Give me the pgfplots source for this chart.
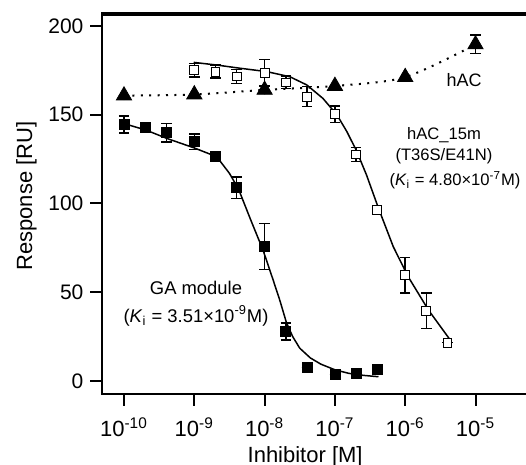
\documentclass[border=0pt]{standalone}
\usepackage{fontspec}
\setmainfont{Liberation Sans}
\usepackage{pgfplots}
\pgfplotsset{compat=1.18}

% binding curves
\pgfplotstableread{
x       y      e
1e-10   144.5  4.8
2e-10   142.6  2.0
4e-10   139.8  5.2
1e-9    134.8  4.3
2e-9    126.4  2.0
4e-9    108.8  6.0
1e-8    75.8   13.0
2e-8    28.0   4.8
4e-8    7.5    0
1e-7    3.8    0
2e-7    4.3    0
4e-7    6.6    0
}\gadata
\pgfplotstableread{
x       y      e
1e-9    175.2  3.8
2e-9    174.3  3.7
4e-9    171.6  4.0
1e-8    173.7  7.5
2e-8    168.2  3.5
4e-8    160.2  5.6
1e-7    150.2  4.7
2e-7    127.6  4.0
4e-7    96.3   0
1e-6    59.7   10.0
2e-6    39.6   10.0
4e-6    21.6   0
}\mdata
\pgfplotstableread{
x       y      e
1e-10   160.8  0
1e-9    161.4  0
1e-8    164.0  0
1e-7    166.2  0
1e-6    171.2  0
1e-5    189.6  5.2
}\hacdata

\begin{document}
\begin{tikzpicture}
\begin{axis}[
    scale only axis,
    width=213.75pt,
    height=190pt,
    xmode=log,
    xmin=4.943e-11, xmax=5.957e-5,
    ymin=-7.32, ymax=206.76,
    xtick={1e-10,1e-9,1e-8,1e-7,1e-6,1e-5},
    xticklabels={10\textsuperscript{-10},10\textsuperscript{-9},10\textsuperscript{-8},10\textsuperscript{-7},10\textsuperscript{-6},10\textsuperscript{-5}},
    xminorticks=false,
    ytick={0,50,100,150,200},
    yticklabel style={/pgf/number format/assume math mode=true},
    tick label style={font=\fontsize{10.5}{12}\selectfont},
    xticklabel style={font=\fontsize{11}{13}\selectfont, yshift=-2.5pt},
    tick align=outside,
    major tick length=6pt,
    tick style={line width=1pt, black},
    axis line style={line width=1pt},
    xtick pos=left, ytick pos=left,
    xlabel={Inhibitor [M]},
    ylabel={Response [RU]},
    label style={font=\fontsize{11}{13}\selectfont},
    xlabel style={at={(axis description cs:0.474,-0.165)}, anchor=center},
    ylabel style={at={(axis description cs:-0.178,0.521)}, anchor=center},
    clip=false,
]
\coordinate (SW) at (rel axis cs:0,0);

% fitted curves
\addplot[black, line width=0.75pt, mark=none] coordinates {
(1e-10,145.0) (2.04e-10,141.4) (4.17e-10,136.5) (1e-9,131.3) (2.09e-9,126.3)
(3.16e-9,117.0) (4.27e-9,108.0) (6.31e-9,91.0) (9.55e-9,73.5) (1.32e-8,57.0)
(1.66e-8,45.0) (2.04e-8,33.0) (2.51e-8,25.0) (3.16e-8,18.5) (4.47e-8,13.0)
(6.31e-8,9.5) (1e-7,6.3) (1.58e-7,4.3) (2.51e-7,3.2) (4.17e-7,2.4)
};
\addplot[black, line width=0.75pt, mark=none] coordinates {
(9.8e-10,179.5) (2.09e-9,178.0) (4.47e-9,176.2) (1.07e-8,174.3) (2.29e-8,171.4)
(3.98e-8,166.8) (6.76e-8,159.2) (1.07e-7,149.9) (1.48e-7,140.5) (2.04e-7,129.5)
(2.82e-7,116.0) (4.17e-7,97.3) (6.76e-7,75.7) (1.1e-6,58.8) (2.14e-6,40.0)
(4.37e-6,23.1)
};
\addplot[black, line width=1pt, smooth, dash pattern=on 1pt off 3.2pt, mark=none]
  coordinates {(1e-10,160.8) (1e-9,161.4) (1e-8,164.0) (1e-7,166.2) (1e-6,171.2) (1e-5,189.6)};

% error bars
\pgfplotsset{ebar/.style={forget plot, only marks, mark=none,
    error bars/.cd, y dir=both, y explicit,
    error bar style={line width=0.75pt, black},
    error mark options={rotate=90, mark size=2.6pt, line width=0.75pt, black}}}
\addplot[ebar] table[x=x, y=y, y error=e] {\gadata};
\addplot[ebar] table[x=x, y=y, y error=e] {\mdata};
\addplot[ebar] table[x=x, y=y, y error=e] {\hacdata};

% markers
\addplot[only marks, mark=square*, mark size=2.5pt, mark options={fill=black, draw=black, line width=0.4pt}]
  table[x=x, y=y] {\gadata};
\addplot[only marks, mark=square*, mark size=2.2pt, mark options={fill=white, draw=black, line width=0.5pt}]
  table[x=x, y=y] {\mdata};
\addplot[only marks, mark=triangle*, mark size=4.4pt, mark options={fill=black, draw=black, line width=0.4pt}]
  table[x=x, y=y] {\hacdata};

% annotations
\node[font=\fontsize{9.2}{11}\selectfont, anchor=center] at (axis cs:1.057e-9,52.4) {GA module};
\node[font=\fontsize{9.2}{11}\selectfont, anchor=center] at (axis cs:1.057e-9,36.6) {(\textit{K}\textsubscript{i} = 3.51×10\textsuperscript{-9}M)};
\node[font=\fontsize{9}{11}\selectfont, anchor=center] at (axis cs:6.87e-6,169.6) {hAC};
\node[font=\fontsize{8.3}{10}\selectfont, anchor=center] at (axis cs:3.56e-6,138.6) {hAC\_15m};
\node[font=\fontsize{8.3}{10}\selectfont, anchor=center] at (axis cs:3.56e-6,126.9) {(T36S/E41N)};
\node[font=\fontsize{8.3}{10}\selectfont, anchor=center] at (axis cs:5.1e-6,113.2) {(\textit{K}\textsubscript{i} = 4.80×10\textsuperscript{-7}M)};
\end{axis}
% top frame line
\draw[black, line width=1.6pt] ([shift={(-0.5pt,190pt)}]SW) -- ([shift={(214pt,190pt)}]SW);
\pgfresetboundingbox
\path[use as bounding box] ([shift={(-51.25pt,-35.5pt)}]SW) rectangle ([shift={(211.75pt,197pt)}]SW);
\end{tikzpicture}
\end{document}
